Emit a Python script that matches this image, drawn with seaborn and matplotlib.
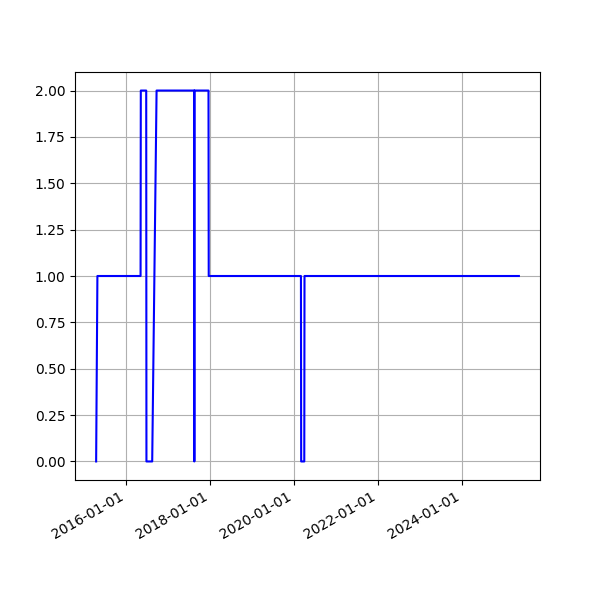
import pandas as pd
import numpy as np
import seaborn as sns
import matplotlib
matplotlib.use('Agg')
import matplotlib.pyplot as plt
import matplotlib.dates as mdates

# change points
dates = ['2015-04-20', '2015-05-01', '2016-05-10', '2016-05-12',
         '2016-06-28', '2016-06-30', '2016-08-19', '2016-09-26',
         '2017-08-19', '2017-08-20', '2017-08-21', '2017-12-21',
         '2017-12-23', '2020-03-03', '2020-03-05', '2020-04-01',
         '2020-04-03', '2025-05-09']
values = [0, 1, 1, 2,
          2, 0, 0, 2,
          2, 0, 2, 2,
          1, 1, 0, 0,
          1, 1]

df = pd.DataFrame({'date': pd.to_datetime(dates), 'value': values})

fig, ax = plt.subplots(figsize=(6, 6), dpi=100)
sns.lineplot(data=df, x='date', y='value', color='blue', ax=ax)
ax.set_xlabel('')
ax.set_ylabel('')
ax.xaxis.set_major_locator(mdates.YearLocator(2))
ax.xaxis.set_major_formatter(mdates.DateFormatter('%Y-%m-%d'))
ax.grid(True)
fig.autofmt_xdate()
plt.savefig('out.png')
